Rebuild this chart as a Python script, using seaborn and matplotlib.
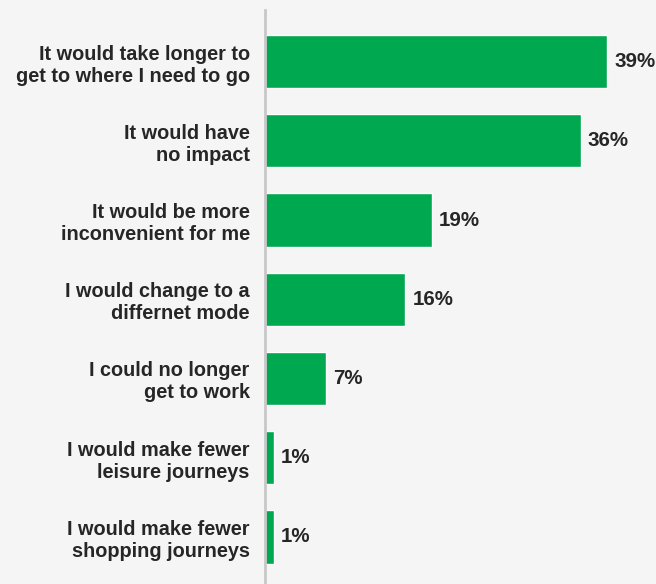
import matplotlib
matplotlib.use("Agg")
import matplotlib.pyplot as plt
import seaborn as sns
import pandas as pd

categories = [
    "It would take longer to\nget to where I need to go",
    "It would have\nno impact",
    "It would be more\ninconvenient for me",
    "I would change to a\ndiffernet mode",
    "I could no longer\nget to work",
    "I would make fewer\nleisure journeys",
    "I would make fewer\nshopping journeys",
]
values = [39, 36, 19, 16, 7, 1, 1]

df = pd.DataFrame({"category": categories, "value": values})

sns.set_theme(style="white")
plt.rcParams["font.family"] = ["Liberation Sans", "DejaVu Sans"]

bg = "#f5f5f5"
fig = plt.figure(figsize=(6.56, 5.84), dpi=100, facecolor=bg)
ax = fig.add_axes([265 / 656, 0, 391 / 656, 574 / 584])
ax.set_facecolor(bg)

sns.barplot(data=df, x="value", y="category", orient="h", color="#00a94f",
            saturation=1, width=0.67, ax=ax)

ax.set_xlim(0, 391 / 8.77)
ax.set_ylim(6 + 47 / 79.25, -51.5 / 79.25)

for i, v in enumerate(values):
    ax.text(v + 0.8, i, f"{v}%", va="center", ha="left", fontsize=14.8,
            fontweight="bold", color="#262626")

ax.set_xlabel("")
ax.set_ylabel("")
ax.set_xticks([])
ax.tick_params(axis="y", length=0, pad=11)
for lbl in ax.get_yticklabels():
    lbl.set_fontweight("bold")
    lbl.set_fontsize(14.3)
    lbl.set_color("#262626")
    lbl.set_linespacing(1.2)
    lbl.set_horizontalalignment("right")
    lbl.set_multialignment("right")

for side in ["top", "right", "bottom"]:
    ax.spines[side].set_visible(False)
ax.spines["left"].set_color("#c8c8c8")
ax.spines["left"].set_linewidth(2)

fig.savefig("out.png", dpi=100, facecolor=bg)
